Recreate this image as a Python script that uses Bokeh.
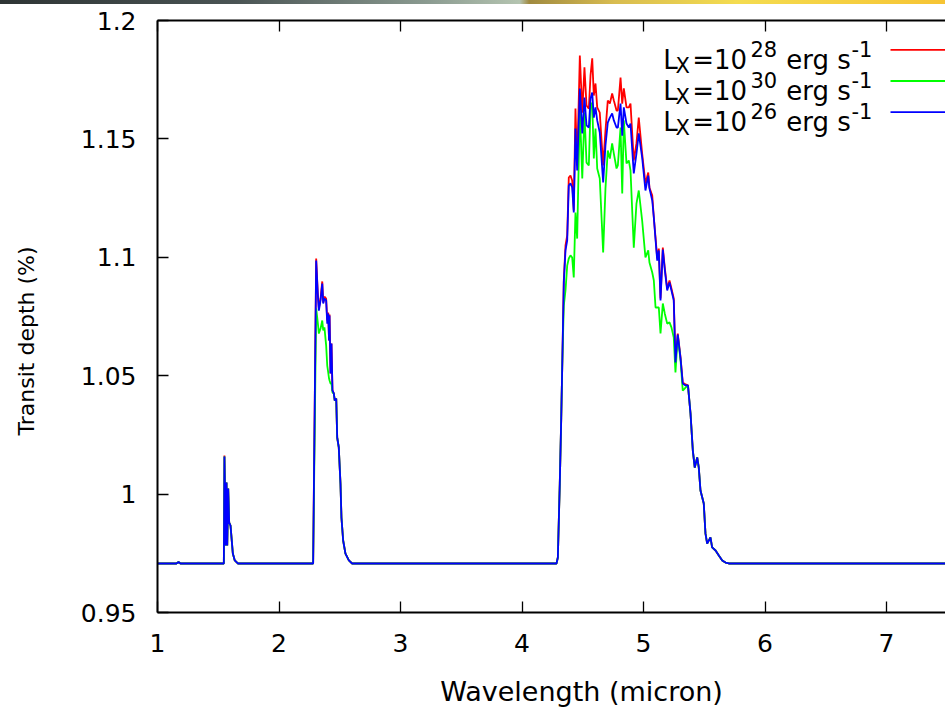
from bokeh.plotting import figure
from bokeh.layouts import column
from bokeh.models import (Range1d, LinearAxis, FixedTicker, Label, Arrow,
                          NumeralTickFormatter, Div)
from bokeh.embed import file_html
from bokeh.resources import INLINE

# ---------------- data ----------------
wavelength = [
    1.000, 1.156, 1.173, 1.189, 1.546, 1.551, 1.562, 1.568, 1.574, 1.582,
    1.590, 1.601, 1.609, 1.620, 1.636, 1.661, 2.281, 2.306, 2.319, 2.328,
    2.342, 2.356, 2.364, 2.374, 2.388, 2.397, 2.405, 2.412, 2.416, 2.424,
    2.432, 2.440, 2.451, 2.459, 2.471, 2.479, 2.492, 2.506, 2.514, 2.528,
    2.547, 2.575, 2.602, 4.284, 4.295, 4.311, 4.323, 4.331, 4.344, 4.358,
    4.372, 4.385, 4.399, 4.413, 4.426, 4.440, 4.454, 4.476, 4.496, 4.514,
    4.531, 4.550, 4.564, 4.578, 4.591, 4.605, 4.619, 4.640, 4.668, 4.687,
    4.706, 4.723, 4.742, 4.756, 4.778, 4.789, 4.811, 4.825, 4.838, 4.860,
    4.879, 4.893, 4.920, 4.942, 4.961, 4.989, 5.016, 5.039, 5.049, 5.072,
    5.085, 5.099, 5.113, 5.126, 5.140, 5.159, 5.175, 5.195, 5.214, 5.230,
    5.249, 5.263, 5.282, 5.305, 5.323, 5.346, 5.366, 5.387, 5.406, 5.422,
    5.442, 5.455, 5.469, 5.496, 5.510, 5.524, 5.551, 5.565, 5.593, 5.620,
    5.648, 5.675, 5.702, 8.000,
]

depth_lx28 = [
    0.9707, 0.9707, 0.9713, 0.9707, 0.9707, 1.0163, 0.9783, 1.0049, 0.9783, 1.0024,
    0.9880, 0.9867, 0.9817, 0.9749, 0.9720, 0.9707, 0.9707, 1.0995, 1.0851, 1.0784,
    1.0826, 1.0898, 1.0809, 1.0834, 1.0826, 1.0733, 1.0767, 1.0649, 1.0758, 1.0509,
    1.0636, 1.0438, 1.0425, 1.0395, 1.0404, 1.0239, 1.0197, 1.0045, 0.9901, 0.9804,
    0.9749, 0.9720, 0.9707, 0.9707, 0.9732, 1.0045, 1.0323, 1.0535, 1.0902, 1.1050,
    1.1092, 1.1337, 1.1345, 1.1324, 1.1198, 1.1628, 1.1388, 1.1852, 1.1611, 1.1802,
    1.1641, 1.1628, 1.1768, 1.1840, 1.1683, 1.1734, 1.1633, 1.1611, 1.1388, 1.1535,
    1.1662, 1.1649, 1.1692, 1.1662, 1.1620, 1.1620, 1.1759, 1.1649, 1.1713, 1.1633,
    1.1633, 1.1649, 1.1409, 1.1481, 1.1590, 1.1438, 1.1312, 1.1358, 1.1295, 1.1261,
    1.1168, 1.1084, 1.0995, 1.1037, 1.0826, 1.1041, 1.0957, 1.0868, 1.0902, 1.0868,
    1.0826, 1.0564, 1.0678, 1.0577, 1.0471, 1.0463, 1.0459, 1.0340, 1.0184, 1.0112,
    1.0155, 1.0112, 1.0015, 0.9960, 0.9834, 0.9791, 0.9817, 0.9775, 0.9762, 0.9741,
    0.9720, 0.9711, 0.9707, 0.9707,
]

depth_lx30 = [
    0.9707, 0.9707, 0.9713, 0.9707, 0.9707, 1.0159, 0.9783, 1.0049, 0.9783, 1.0024,
    0.9880, 0.9867, 0.9817, 0.9749, 0.9720, 0.9707, 0.9707, 1.0784, 1.0725, 1.0678,
    1.0699, 1.0733, 1.0691, 1.0704, 1.0628, 1.0543, 1.0514, 1.0488, 1.0480, 1.0467,
    1.0467, 1.0429, 1.0425, 1.0395, 1.0404, 1.0239, 1.0197, 1.0045, 0.9901, 0.9804,
    0.9749, 0.9720, 0.9707, 0.9707, 0.9732, 1.0045, 1.0323, 1.0535, 1.0796, 1.0860,
    1.0965, 1.0995, 1.1008, 1.0999, 1.0915, 1.1189, 1.1079, 1.1628, 1.1333, 1.1611,
    1.1400, 1.1388, 1.1628, 1.1654, 1.1417, 1.1544, 1.1375, 1.1333, 1.1020, 1.1291,
    1.1451, 1.1417, 1.1481, 1.1438, 1.1375, 1.1388, 1.1548, 1.1269, 1.1578, 1.1396,
    1.1409, 1.1367, 1.1041, 1.1227, 1.1282, 1.1155, 1.0999, 1.1029, 1.0978, 1.0936,
    1.0902, 1.0788, 1.0788, 1.0788, 1.0678, 1.0805, 1.0763, 1.0720, 1.0725, 1.0704,
    1.0661, 1.0514, 1.0670, 1.0564, 1.0437, 1.0450, 1.0459, 1.0340, 1.0184, 1.0112,
    1.0155, 1.0112, 1.0015, 0.9960, 0.9834, 0.9791, 0.9817, 0.9775, 0.9762, 0.9741,
    0.9720, 0.9711, 0.9707, 0.9707,
]

depth_lx26 = [
    0.9707, 0.9707, 0.9713, 0.9707, 0.9707, 1.0159, 0.9783, 1.0049, 0.9783, 1.0024,
    0.9880, 0.9867, 0.9817, 0.9749, 0.9720, 0.9707, 0.9707, 1.0986, 1.0847, 1.0775,
    1.0818, 1.0889, 1.0805, 1.0826, 1.0818, 1.0720, 1.0763, 1.0649, 1.0754, 1.0509,
    1.0636, 1.0438, 1.0425, 1.0395, 1.0404, 1.0239, 1.0197, 1.0045, 0.9901, 0.9804,
    0.9749, 0.9720, 0.9707, 0.9707, 0.9732, 1.0045, 1.0323, 1.0535, 1.0894, 1.1029,
    1.1071, 1.1303, 1.1312, 1.1295, 1.1189, 1.1544, 1.1367, 1.1713, 1.1523, 1.1675,
    1.1557, 1.1548, 1.1671, 1.1696, 1.1590, 1.1633, 1.1578, 1.1527, 1.1316, 1.1472,
    1.1569, 1.1590, 1.1607, 1.1578, 1.1548, 1.1548, 1.1649, 1.1514, 1.1633, 1.1565,
    1.1548, 1.1565, 1.1354, 1.1438, 1.1523, 1.1421, 1.1282, 1.1345, 1.1291, 1.1240,
    1.1168, 1.1075, 1.0986, 1.1029, 1.0818, 1.1033, 1.0948, 1.0860, 1.0894, 1.0860,
    1.0818, 1.0556, 1.0674, 1.0573, 1.0467, 1.0459, 1.0459, 1.0340, 1.0184, 1.0112,
    1.0155, 1.0112, 1.0015, 0.9960, 0.9834, 0.9791, 0.9817, 0.9775, 0.9762, 0.9741,
    0.9720, 0.9711, 0.9707, 0.9707,
]

x_ticks = [1, 2, 3, 4, 5, 6, 7, 8]
y_ticks = [0.95, 1.0, 1.05, 1.1, 1.15, 1.2]

legend_exponents = ["28", "30", "26"]
legend_colors = ["#ff0000", "#00ff00", "#0000ff"]
series = [depth_lx28, depth_lx30, depth_lx26]

x_title = "Wavelength (micron)"
y_title = "Transit depth (%)"

# ---------------- layout ----------------
FONT = "DejaVu Sans"
NBSP = "\u00a0"
W, H = 945, 709
STRIP = 4
LEFT, TOP, BOTTOM = 157, 20 - STRIP, 97
PH = H - STRIP
frame_w = W - LEFT
frame_h = PH - TOP - BOTTOM
x_end = 1 + frame_w / 121.5

p = figure(width=W, height=PH, output_backend="svg", toolbar_location=None,
           x_range=Range1d(1, x_end), y_range=Range1d(0.95, 1.2),
           min_border_left=LEFT, min_border_right=0,
           min_border_top=TOP, min_border_bottom=BOTTOM,
           background_fill_color="white", border_fill_color="white")
p.outline_line_color = None
p.xgrid.visible = False
p.ygrid.visible = False


def style_axis(ax):
    ax.major_tick_in = 11
    ax.major_tick_out = 0
    ax.minor_tick_in = 11
    ax.minor_tick_out = 0
    ax.minor_tick_line_color = None
    ax.axis_line_width = 2
    ax.axis_line_color = "black"
    ax.major_tick_line_width = 1.3
    ax.major_tick_line_color = "black"
    ax.major_label_text_font = FONT
    ax.major_label_text_font_size = "25px"
    ax.major_label_text_color = "black"


def title_axis(text, size, standoff):
    # axis with no line and no ticks that only carries the axis title
    return LinearAxis(ticker=FixedTicker(ticks=[]),
                      axis_line_color=None, major_tick_line_color=None,
                      minor_tick_line_color=None, major_tick_in=0, major_tick_out=0,
                      axis_label=text, axis_label_standoff=standoff,
                      axis_label_text_font=FONT, axis_label_text_font_size=size,
                      axis_label_text_font_style="normal",
                      axis_label_text_color="black")


xa = p.xaxis[0]
style_axis(xa)
xa.ticker = FixedTicker(ticks=x_ticks)
xa.formatter = NumeralTickFormatter(format="0")
xa.major_label_standoff = 21

ya = p.yaxis[0]
style_axis(ya)
ya.ticker = FixedTicker(ticks=y_ticks)
ya.formatter = NumeralTickFormatter(format="0.[00]")
ya.major_label_standoff = 21

# mirrored top border: ticks only (as minor ticks, so no labels)
top = LinearAxis(ticker=FixedTicker(ticks=[], minor_ticks=x_ticks))
style_axis(top)
top.minor_tick_line_color = "black"
top.minor_tick_line_width = 1.3
p.add_layout(top, "above")

for ys, c in zip(series, legend_colors):
    p.line(wavelength, ys, line_color=c, line_width=1.8)

# axis titles; the reference's frame continues past the cropped right edge, so its
# titles sit off-centre: non-breaking-space padding shifts them the same way
p.add_layout(title_axis(NBSP * 7 + x_title, "27px", 21), "below")
p.add_layout(title_axis(y_title + NBSP * 7, "22px", 39), "left")


def sx(px):
    return px - LEFT


def sy(py):
    # py is a pixel row of the full page (strip included)
    return (STRIP + TOP + frame_h) - py


def add_text(px, py, text, size):
    p.add_layout(Label(x=sx(px), y=sy(py), x_units="screen", y_units="screen",
                       text=text, text_font=FONT, text_font_size=size,
                       text_color="black", text_align="left",
                       text_baseline="alphabetic"))


# legend (gnuplot style key: text, then sample line)
row_base = [59.3, 90.5, 121.7]
for base, expo, col in zip(row_base, legend_exponents, legend_colors):
    add_text(662.7, base, "L", "26px")
    add_text(675.0, base + 6, "X", "21px")
    add_text(691.7, base, "=10", "26px")
    add_text(750.0, base - 11, expo, "21px")
    add_text(785.7, base, "erg s", "26px")
    add_text(851.0, base - 11, "-1", "21px")
    p.add_layout(Arrow(end=None, x_start=sx(890), y_start=sy(base - 10),
                       x_end=sx(W + 5), y_end=sy(base - 10),
                       start_units="screen", end_units="screen",
                       line_color=col, line_width=1.8))

# thin coloured strip along the very top edge of the reference image
strip = Div(width=W, height=STRIP, margin=0, styles={
    "background": "linear-gradient(to right, #2e3434 0%, #4a5454 25%, #8a9a90 45%, "
                  "#b4c4b0 55%, #a08a40 56%, #d8bc50 65%, #f4dc50 78%, #f6c434 100%)"})

layout = column(strip, p, spacing=0, margin=0)
open("out.html", "w").write(file_html(layout, INLINE))
